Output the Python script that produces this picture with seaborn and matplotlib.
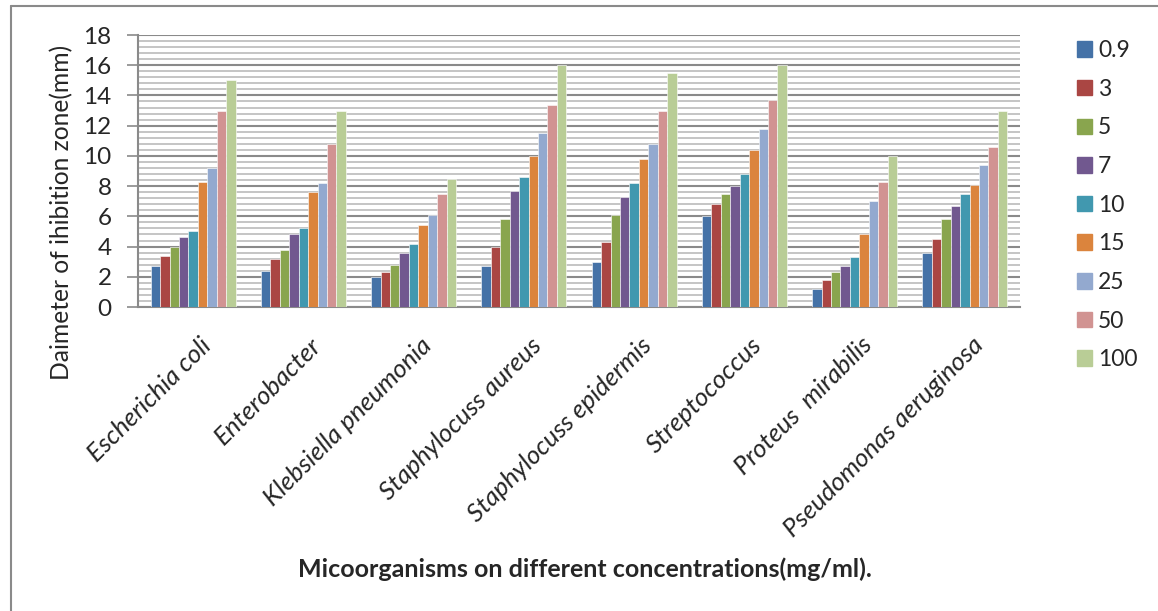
import matplotlib
matplotlib.use("Agg")
import matplotlib.pyplot as plt
from matplotlib.lines import Line2D
from matplotlib.ticker import MultipleLocator
from matplotlib.transforms import ScaledTranslation
import seaborn as sns
import pandas as pd

categories = ["Escherichia coli", "Enterobacter", "Klebsiella pneumonia",
              "Staphylocuss aureus", "Staphylocuss epidermis", "Streptococcus",
              "Proteus  mirabilis", "Pseudomonas aeruginosa"]
series = ["0.9", "3", "5", "7", "10", "15", "25", "50", "100"]

v_ecoli = [2.7, 3.4, 4.0, 4.6, 5.0, 8.3, 9.2, 13.0, 15.0]
v_entero = [2.4, 3.2, 3.8, 4.8, 5.2, 7.6, 8.2, 10.8, 13.0]
v_kleb = [2.0, 2.3, 2.8, 3.6, 4.2, 5.4, 6.1, 7.5, 8.5]
v_saureus = [2.7, 4.0, 5.8, 7.7, 8.6, 10.0, 11.5, 13.4, 16.0]
v_sepi = [3.0, 4.3, 6.1, 7.3, 8.2, 9.8, 10.8, 13.0, 15.5]
v_strep = [6.0, 6.8, 7.5, 8.0, 8.8, 10.4, 11.8, 13.7, 16.0]
v_proteus = [1.2, 1.8, 2.3, 2.7, 3.3, 4.8, 7.0, 8.3, 10.0]
v_pseudo = [3.6, 4.5, 5.8, 6.7, 7.5, 8.1, 9.4, 10.6, 13.0]

colors = ["#4572A7", "#AA4643", "#89A54E", "#71588F", "#4198AF",
          "#DB843D", "#93A9CF", "#D19392", "#B9CD96"]

values = [v_ecoli, v_entero, v_kleb, v_saureus, v_sepi, v_strep, v_proteus, v_pseudo]
rows = []
for cat, vals in zip(categories, values):
    for s, v in zip(series, vals):
        rows.append({"cat": cat, "conc": s, "val": v})
df = pd.DataFrame(rows)

sns.set_theme(style="white")
plt.rcParams["font.family"] = ["Lato", "DejaVu Sans"]

fig = plt.figure(figsize=(11.58, 6.11), dpi=100)
ax = fig.add_axes([138/1158, 1-307/611, (1020-138)/1158, (307-35)/611])

sns.barplot(data=df, x="cat", y="val", hue="conc", order=categories,
            hue_order=series, palette=colors, width=0.77, ax=ax,
            saturation=1, errorbar=None, edgecolor="white", linewidth=0.4,
            zorder=3)

ax.set_ylim(0, 18)
ax.set_xlim(-0.5, len(categories) - 0.5)
ax.yaxis.set_major_locator(MultipleLocator(2))
ax.yaxis.set_minor_locator(MultipleLocator(0.4))
ax.grid(which="major", axis="y", color="#8a8a8a", linewidth=1.5, zorder=0)
ax.grid(which="minor", axis="y", color="#c0c0c0", linewidth=1.3, zorder=0)
ax.set_axisbelow(True)
for sp in ["top", "right"]:
    ax.spines[sp].set_visible(False)
for sp in ["left", "bottom"]:
    ax.spines[sp].set_color("#8a8a8a")
    ax.spines[sp].set_linewidth(1.5)
ax.tick_params(axis="y", which="major", direction="out", length=8, width=1.2,
               color="#8a8a8a", pad=11, labelsize=17.5, left=True)
ax.tick_params(axis="y", which="minor", left=False)
ax.tick_params(axis="x", length=0, pad=19)
ax.set_xticks(range(len(categories)))
ax.set_xticklabels(categories, rotation=45, ha="right", va="top",
                   rotation_mode="anchor", fontsize=18.5, style="italic")
offset = ScaledTranslation(6/100, 0, fig.dpi_scale_trans)
for lab in ax.get_xticklabels():
    lab.set_transform(lab.get_transform() + offset)
ax.set_xlabel("")
ax.set_ylabel("")

fig.text(62/1158, 1-212/611, "Daimeter of ihibition zone(mm)", rotation=90,
         ha="center", va="center", fontsize=17.7)
fig.text(585/1158, 1-569/611, "Micoorganisms on different concentrations(mg/ml).",
         ha="center", va="center", fontsize=18, fontweight="bold")

ax.legend_.remove()
handles = [plt.Rectangle((0, 0), 1, 1, color=c) for c in colors]
fig.legend(handles, series, loc="upper left",
           bbox_to_anchor=(1077/1158, 1-40/611), frameon=False, fontsize=16.5,
           handlelength=0.655, handleheight=0.655, handletextpad=0.26,
           labelspacing=0.77, borderpad=0, borderaxespad=0)

fig.add_artist(Line2D([11/1158, 1.0], [1-6/611, 1-6/611], color="#8a8a8a",
                      linewidth=1.5, transform=fig.transFigure))
fig.add_artist(Line2D([11/1158, 11/1158], [1-6/611, 0.0], color="#8a8a8a",
                      linewidth=1.5, transform=fig.transFigure))

fig.savefig("out.png", dpi=100)
